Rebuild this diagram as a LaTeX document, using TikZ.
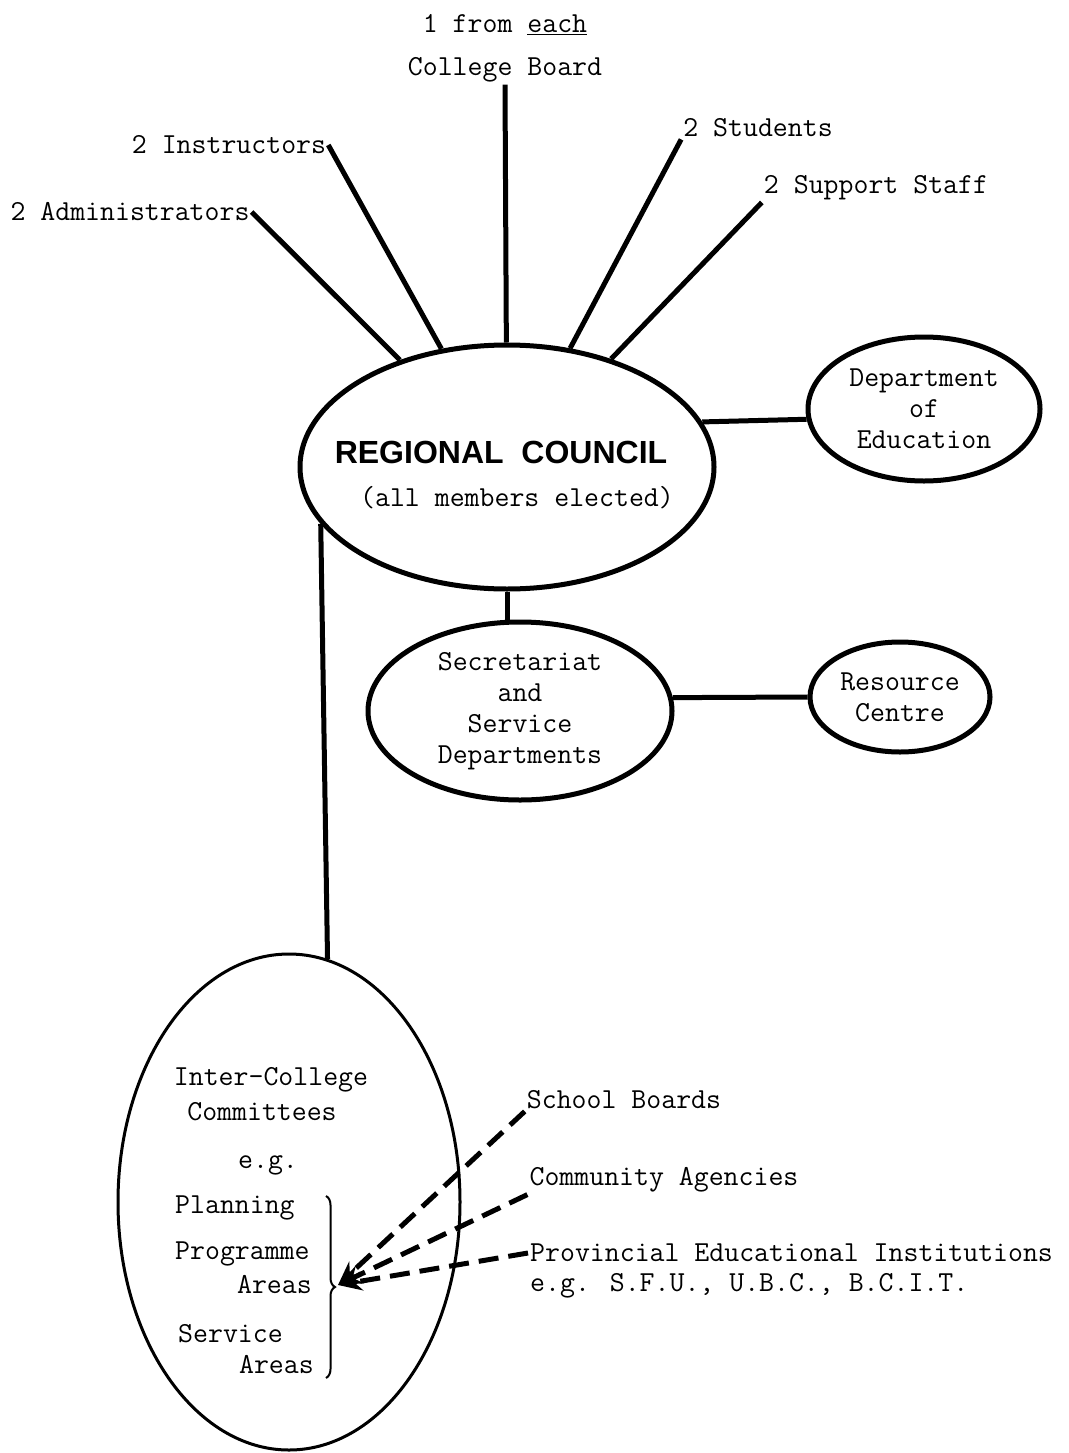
\documentclass[tikz,border=0pt]{standalone}
\usepackage{fontspec}
\newfontfamily\rcfont{Liberation Sans}
\usetikzlibrary{shapes.geometric,arrows.meta,decorations.pathreplacing}
\begin{document}
\begin{tikzpicture}[x=1pt,y=-1pt,
  tw/.style={font=\fontsize{29}{31}\selectfont\ttfamily, inner sep=2pt, align=center},
  oval/.style={draw, ellipse, line width=5pt, inner sep=0pt, tw},
  conn/.style={line width=5pt},
  dconn/.style={line width=5pt, dash pattern=on 20pt off 10pt, -{Stealth[length=24pt,width=19pt]}}]
\useasboundingbox (0,0) rectangle (1068,1453);

% top labels
\node[tw] (each) at (505,25) {1 from \underline{each}};
\node[tw] (cb) at (505,70) {College Board};
\node[tw] (ins) at (229,145) {2 Instructors};
\node[tw] (adm) at (130,212) {2 Administrators};
\node[tw] (stu) at (758,128) {2 Students};
\node[tw] (sup) at (876,188) {2 Support Staff};

% regional council
\node[draw, ellipse, line width=5pt, minimum width=414pt, minimum height=244pt] (rc) at (507,467) {};
\node[font=\fontsize{32}{36}\selectfont\rcfont\bfseries, inner sep=0pt] (rctitle) at (501,452) {REGIONAL\ \ COUNCIL};
\node[tw] (rcsub) at (517,498) {(all members elected)};

\draw[conn] (cb.south) -- (rc);
\draw[conn] (ins.east) -- (rc);
\draw[conn] (adm.east) -- (rc);
\draw[conn] (stu.south west) -- (rc);
\draw[conn] (sup.south west) -- (rc);

% department of education
\node[oval, minimum width=232pt, minimum height=144pt] (dept) at (924,409) {Department\\of\\Education};
\draw[conn] (rc.13) -- (dept.185.5);

% secretariat
\node[oval, minimum width=304pt, minimum height=178pt] (sec) at (520,711) {Secretariat\\and\\Service\\Departments};
\draw[conn] (rc.south) -- (rc.south |- sec.north);

% resource centre
\node[oval, minimum width=180pt, minimum height=110pt] (res) at (900,697) {Resource\\Centre};
\draw[conn] (sec.5.3) -- (res.west);

% inter-college committees
\node[draw, ellipse, line width=3pt, minimum width=342pt, minimum height=496pt] (inter) at (289,1202) {};
\draw[conn] (rc.197) -- (inter.81.6);

\node[tw] (ic1) at (271,1080) {Inter-College};
\node[tw] (ic2) at (262,1112) {Committees};
\node[tw] (eg) at (268,1165) {e.g.};
\node[tw, anchor=west] (plan) at (173,1208) {Planning};
\node[tw, anchor=west] (prog) at (173,1254) {Programme};
\node[tw, anchor=east] (area1) at (314,1285) {Areas};
\node[tw, anchor=west] (serv) at (176,1334) {Service};
\node[tw, anchor=east] (area2) at (316,1365) {Areas};

\draw[decorate, decoration={brace, amplitude=9pt}, line width=2pt] (326,1196) -- (326,1378);

% external bodies
\node[tw] (sb) at (624,1100) {School Boards};
\node[tw] (ca) at (664,1180) {Community Agencies};
\node[tw, anchor=west] (pei) at (528,1253) {Provincial Educational Institutions};
\node[tw, anchor=west] (peieg) at (528,1286) {e.g. S.F.U., U.B.C., B.C.I.T.};

\coordinate (tip) at (338,1285);
\draw[dconn] (sb.south west) -- (tip);
\draw[dconn] (ca.south west) -- (tip);
\draw[dconn] (pei.west) -- (tip);
\end{tikzpicture}
\end{document}
